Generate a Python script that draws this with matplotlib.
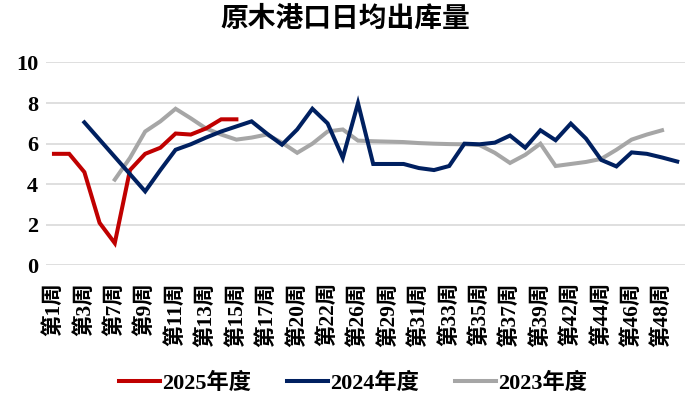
import numpy as np
import matplotlib.pyplot as plt
from matplotlib.lines import Line2D

#__ Data _____________________________________________
weeks = ['第1周', '第2周', '第3周', '第5周', '第7周', '第8周', '第9周', '第10周',
         '第11周', '第12周', '第13周', '第14周', '第15周', '第16周', '第17周', '第19周',
         '第20周', '第21周', '第22周', '第24周', '第26周', '第28周', '第29周', '第30周',
         '第31周', '第32周', '第33周', '第34周', '第35周', '第36周', '第37周', '第38周',
         '第39周', '第41周', '第42周', '第43周', '第44周', '第45周', '第46周', '第47周',
         '第48周', '第49周']

y2025 = [5.5, 5.5, 4.6, 2.1, 1.1, 4.7, 5.5, 5.8, 6.5, 6.45, 6.75, 7.2, 7.2]

# 2024 starts at 第3周
y2024 = [7.05, 6.2, 5.35, 4.5, 3.65, 4.7, 5.7, 5.97, 6.3, 6.6, 6.85, 7.1,
         6.5, 5.95, 6.7, 7.72, 7.0, 5.3, 8.0, 5.0, 5.0, 5.0, 4.8, 4.7, 4.9,
         6.0, 5.97, 6.05, 6.4, 5.8, 6.66, 6.17, 6.99, 6.25, 5.2, 4.88, 5.57,
         5.5, 5.32, 5.12]

# 2023 starts at 第7周
y2023 = [4.23, 5.3, 6.6, 7.1, 7.72, 7.25, 6.75, 6.45, 6.2, 6.3, 6.45, 6.05,
         5.55, 6.0, 6.6, 6.7, 6.15, 6.12, 6.1, 6.08, 6.03, 6.0, 5.98, 5.97,
         5.93, 5.55, 5.05, 5.45, 6.0, 4.9, 5.0, 5.1, 5.25, 5.7, 6.2, 6.45, 6.66]

labels = ['2025年度', '2024年度', '2023年度']
colors = ['#C00000', '#002060', '#A6A6A6']

serif_cjk = ['Liberation Serif', 'Noto Sans CJK SC']

fig = plt.figure(figsize=(6.9, 3.98), dpi=100)
ax = fig.add_axes([0.0672, 0.333, 0.9253, 0.51])

x = np.arange(len(weeks))
ax.plot(x[0:len(y2025)], y2025, color=colors[0], lw=2.9, solid_joinstyle='miter', zorder=3)
ax.plot(x[2:2 + len(y2024)], y2024, color=colors[1], lw=2.9, solid_joinstyle='miter', zorder=3)
ax.plot(x[4:4 + len(y2023)], y2023, color=colors[2], lw=2.9, solid_joinstyle='miter', zorder=2)

ax.set_xlim(-0.5, len(weeks) - 0.5)
ax.set_ylim(0, 10)
ax.set_yticks(np.arange(0, 11, 2))
ax.set_yticklabels([str(v) for v in range(0, 11, 2)],
                   family=serif_cjk, fontweight='bold', fontsize=16)
ax.set_xticks(x[::2])
ax.set_xticklabels(weeks[::2], rotation=90, family=serif_cjk,
                   fontweight='bold', fontsize=15.5)
ax.tick_params(axis='both', length=0)
ax.tick_params(axis='y', pad=6)
ax.tick_params(axis='x', pad=12)
ax.grid(axis='y', color='#D9D9D9', lw=1.2)
ax.set_axisbelow(True)
for s in ax.spines.values():
    s.set_visible(False)

fig.text(0.5, 0.953, '原木港口日均出库量', ha='center', va='center',
         family=['Noto Sans CJK SC', 'DejaVu Sans'], fontweight='bold', fontsize=20)

handles = [Line2D([], [], color=c, lw=2.9) for c in colors]
fig.legend(handles, labels, loc='center', bbox_to_anchor=(0.512, 0.036), ncol=3,
           frameon=False, handlelength=1.85, handletextpad=0.1, columnspacing=1.6,
           prop={'family': serif_cjk, 'weight': 'bold', 'size': 16})

fig.savefig('out.png', dpi=100)
